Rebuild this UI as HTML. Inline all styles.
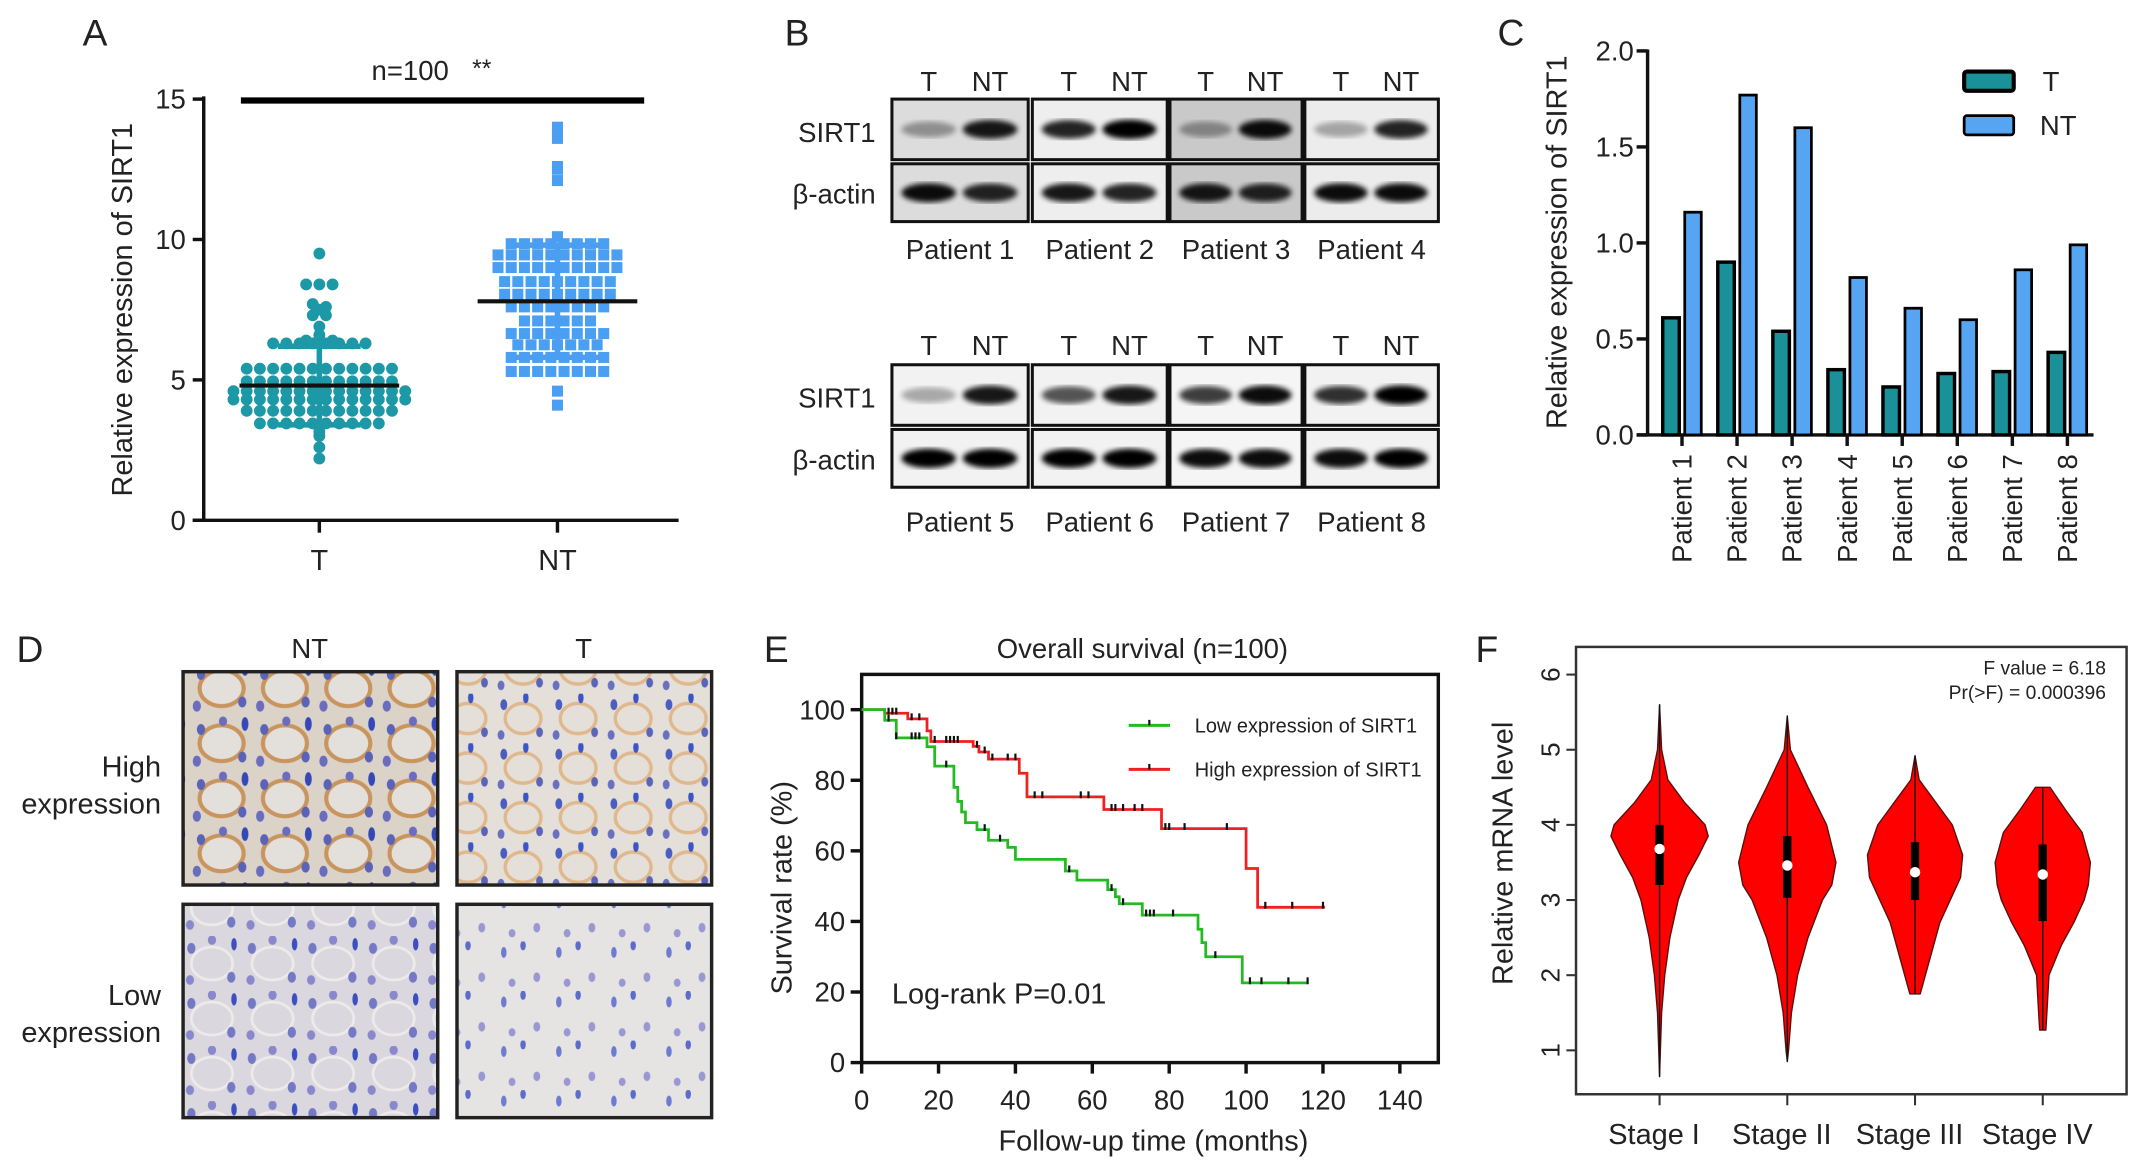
<!DOCTYPE html>
<html><head><meta charset="utf-8"><title>SIRT1 figure</title>
<style>
html,body{margin:0;padding:0;background:#fff;}
svg{display:block;font-family:"Liberation Sans",Arial,sans-serif;}
</style></head>
<body>
<svg id="fig" width="2150" height="1165" viewBox="0 0 1562 846.4" xmlns="http://www.w3.org/2000/svg">
<defs>
<pattern id="ihcHighNT" width="46" height="40" patternUnits="userSpaceOnUse">
<rect width="46" height="40" fill="#dcd3c8"/>
<ellipse cx="23" cy="20" rx="15" ry="12" fill="#e3e0dc"/>
<ellipse cx="23" cy="20" rx="16" ry="13" fill="none" stroke="#c9955e" stroke-width="3"/>
<ellipse cx="8" cy="10" rx="3" ry="4" fill="#5b63b8"/>
<ellipse cx="38" cy="30" rx="3" ry="4" fill="#5b63b8"/>
<ellipse cx="40" cy="6" rx="2.5" ry="5" fill="#3448b8"/>
<ellipse cx="5" cy="33" rx="3" ry="4" fill="#6a6cbd"/>
<ellipse cx="24" cy="4" rx="3" ry="3.5" fill="#6a6cbd"/>
</pattern>
<pattern id="ihcHighT" width="40" height="36" patternUnits="userSpaceOnUse">
<rect width="40" height="36" fill="#e4e0d9"/>
<ellipse cx="20" cy="18" rx="13" ry="11" fill="none" stroke="#e0b88d" stroke-width="2.5"/>
<ellipse cx="6" cy="8" rx="2.5" ry="4" fill="#4a5ec0"/>
<ellipse cx="32" cy="28" rx="2.5" ry="3.5" fill="#5a64b8"/>
<ellipse cx="22" cy="3" rx="2" ry="4" fill="#3d55c4"/>
<ellipse cx="4" cy="30" rx="2.5" ry="3.5" fill="#6a70c0"/>
</pattern>
<pattern id="ihcLowNT" width="44" height="40" patternUnits="userSpaceOnUse">
<rect width="44" height="40" fill="#dad8de"/>
<ellipse cx="22" cy="20" rx="15" ry="12" fill="none" stroke="#eeeaea" stroke-width="2"/>
<ellipse cx="7" cy="9" rx="3" ry="4" fill="#7479c6"/>
<ellipse cx="36" cy="30" rx="3" ry="4" fill="#7479c6"/>
<ellipse cx="38" cy="6" rx="2" ry="4.5" fill="#3d4fc0"/>
<ellipse cx="6" cy="32" rx="3" ry="3.5" fill="#8a88cc"/>
<ellipse cx="22" cy="3" rx="3" ry="3.5" fill="#8a88cc"/>
</pattern>
<pattern id="ihcLowT" width="40" height="36" patternUnits="userSpaceOnUse">
<rect width="40" height="36" fill="#e6e3e3"/>
<ellipse cx="6" cy="8" rx="2" ry="4" fill="#6d7cd0"/>
<ellipse cx="30" cy="26" rx="2.5" ry="3.5" fill="#9a98d2"/>
<ellipse cx="20" cy="3" rx="2" ry="3.5" fill="#5b6ccd"/>
<ellipse cx="12" cy="30" rx="2.5" ry="3" fill="#9a98d2"/>
</pattern>
<filter id="blur1"><feGaussianBlur stdDeviation="2"/></filter>
</defs>
</svg>
<script>
// ===== Panel A data =====
const aCategories = ['T', 'NT'];
const aTicks = [0, 5, 10, 15];
const aTValues = [9.5, 8.4, 8.4, 8.4, 7.7, 7.5, 7.3, 7.3, 7.6, 6.9,
  6.6, 6.4, 6.3, 6.3, 6.3, 6.3, 6.3, 6.3, 6.3, 6.4, 6.4, 6.3,
  5.4, 5.4, 5.4, 5.4, 5.4, 5.4, 5.4, 5.4, 5.4, 5.4, 5.4, 5.4,
  4.95, 4.95, 4.95, 4.95, 4.95, 4.95, 4.95, 4.95, 4.95, 4.95, 4.95, 4.95,
  4.6, 4.6, 4.6, 4.6, 4.6, 4.6, 4.6, 4.6, 4.6, 4.6, 4.6, 4.6, 4.6, 4.6,
  4.3, 4.3, 4.3, 4.3, 4.3, 4.3, 4.3, 4.3, 4.3, 4.3, 4.3, 4.3, 4.3, 4.3,
  3.9, 3.9, 3.9, 3.9, 3.9, 3.9, 3.9, 3.9, 3.9, 3.9, 3.9, 3.9,
  3.45, 3.45, 3.45, 3.45, 3.45, 3.45, 3.45, 3.45, 3.45, 3.45,
  3.15, 3.0, 2.6, 2.2];
const aNTValues = [14.0, 13.8, 13.6, 12.6, 12.5, 12.1, 10.1,
  9.85, 9.85, 9.85, 9.85, 9.85, 9.85, 9.85, 9.85,
  9.45, 9.45, 9.45, 9.45, 9.45, 9.45, 9.45, 9.45, 9.45, 9.45,
  9.0, 9.0, 9.0, 9.0, 9.0, 9.0, 9.0, 9.0, 9.0, 9.0,
  8.5, 8.5, 8.5, 8.5, 8.5, 8.5, 8.5, 8.5, 8.5,
  8.05, 8.05, 8.05, 8.05, 8.05, 8.05, 8.05, 8.05, 8.05,
  7.6, 7.6, 7.6, 7.6, 7.6, 7.6, 7.6, 7.6,
  7.1, 7.1, 7.1, 7.1, 7.1, 7.1,
  6.65, 6.65, 6.65, 6.65, 6.65, 6.65, 6.65, 6.65,
  6.25, 6.25, 6.25, 6.25, 6.25, 6.25, 6.25,
  5.8, 5.8, 5.8, 5.8, 5.8, 5.8, 5.8, 5.8,
  5.3, 5.3, 5.3, 5.3, 5.3, 5.3, 5.3, 5.3,
  4.6, 4.1];
const aMeans = [4.8, 7.8];
const aSD = [1.4, 2.0];

// ===== Panel C data =====
const cCategories = ['Patient 1','Patient 2','Patient 3','Patient 4','Patient 5','Patient 6','Patient 7','Patient 8'];
const cTValues = [0.61, 0.90, 0.54, 0.34, 0.25, 0.32, 0.33, 0.43];
const cNTValues = [1.16, 1.77, 1.60, 0.82, 0.66, 0.60, 0.86, 0.99];
const cTicks = [0, 0.5, 1.0, 1.5, 2.0];
const cTickLabels = ['0.0', '0.5', '1.0', '1.5', '2.0'];

// ===== Panel E data =====
const eXTicks = [0, 20, 40, 60, 80, 100, 120, 140];
const eYTicks = [0, 20, 40, 60, 80, 100];
const eLowTimes = [0, 6, 9, 17, 19, 24, 25, 26, 27, 30, 33, 38, 40, 53, 56, 64, 66, 67, 73, 87.5, 88.5, 89.5, 99, 116];
const eLowSurv  = [100, 97, 92, 89.5, 84, 78, 74, 71, 68, 66, 63, 61, 57.6, 54.3, 51.7, 49, 47, 45, 41.8, 37.8, 34, 30, 22.6, 22.6];
const eHighTimes = [0, 6, 12, 17, 18, 29, 30.5, 33, 41, 43, 63, 78, 100, 103, 120.5];
const eHighSurv  = [100, 99, 97.4, 94, 91, 89.6, 88, 86, 82, 75.3, 71.7, 66.3, 55, 44, 44];
const eLowCensor = [7, 9, 13, 14, 15, 22, 32, 36, 54, 65, 68, 74, 75, 76, 81, 92, 101, 104, 111, 116];
const eHighCensor = [7, 8, 9, 13, 15, 19, 22, 23, 24, 25, 30, 32, 34, 38, 40, 45, 47, 57, 59, 65, 66, 68, 71, 73, 79, 80, 84, 95, 105, 112, 120];

// ===== Panel F data =====
const fStages = ['Stage I', 'Stage II', 'Stage III', 'Stage IV'];
const fTicks = [1, 2, 3, 4, 5, 6];
const fLevels = [
  [5.6, 5.0, 4.6, 4.3, 4.0, 3.85, 3.6, 3.3, 3.0, 2.5, 2.0, 1.5, 1.0, 0.65],
  [5.45, 5.0, 4.5, 4.0, 3.5, 3.2, 3.0, 2.5, 2.0, 1.5, 1.0, 0.85],
  [4.92, 4.6, 4.3, 4.0, 3.6, 3.3, 3.0, 2.7, 2.4, 2.0, 1.8, 1.75],
  [4.5, 4.2, 3.9, 3.5, 3.2, 3.0, 2.7, 2.4, 2.0, 1.5, 1.27]
];
const fWidths = [
  [0, 0.04, 0.16, 0.48, 0.88, 0.94, 0.76, 0.52, 0.36, 0.2, 0.1, 0.04, 0.016, 0],
  [0, 0.06, 0.4, 0.76, 0.94, 0.86, 0.68, 0.4, 0.2, 0.08, 0.024, 0],
  [0, 0.08, 0.4, 0.72, 0.92, 0.88, 0.68, 0.48, 0.36, 0.2, 0.12, 0.1],
  [0.14, 0.44, 0.76, 0.92, 0.88, 0.8, 0.6, 0.36, 0.12, 0.08, 0.06]
];
const fQ1 = [3.2, 3.03, 3.0, 2.72];
const fQ3 = [4.0, 3.85, 3.77, 3.74];
const fMedian = [3.68, 3.46, 3.37, 3.34];

const NS = 'http://www.w3.org/2000/svg';
const svg = document.getElementById('fig');
function mk(tag, attrs, parent) {
  const el = document.createElementNS(NS, tag);
  for (const k in attrs) el.setAttribute(k, attrs[k]);
  (parent || svg).appendChild(el);
  return el;
}
function txt(s, x, y, size, anchor, parent, extra) {
  const t = mk('text', Object.assign({x: x, y: y, 'font-size': size, 'text-anchor': anchor || 'middle', fill: '#222'}, extra || {}), parent);
  t.textContent = s;
  return t;
}
function grp(parent) { return mk('g', {}, parent); }

// Panel letters
const letters = [['A', 60, 33], ['B', 570, 33], ['C', 1088, 33], ['D', 12, 481], ['E', 555, 481], ['F', 1072, 481]];
letters.forEach(l => {
  const t = txt(l[0], l[1], l[2], 27, 'start');
  
  
});

// ================= PANEL A =================
const pA = grp();


const aX0 = 148, aY0 = 378, aYScale = 20.4;
const aCenters = [232, 405];
function yA(v) { return aY0 - v * aYScale; }
function xA(i) { return aCenters[i]; }
let el;
el = mk('line', {x1: aX0, y1: yA(15) - 2, x2: aX0, y2: aY0, stroke: '#111', 'stroke-width': 2.5}, pA);


el = mk('line', {x1: aX0 - 8, y1: aY0, x2: 493, y2: aY0, stroke: '#111', 'stroke-width': 2.5}, pA);


aTicks.forEach(v => {
  const tk = mk('line', {x1: aX0 - 8, y1: yA(v), x2: aX0, y2: yA(v), stroke: '#111', 'stroke-width': 2.5}, pA);
  
  
  const tl = txt(String(v), aX0 - 13, yA(v) + 7, 20, 'end', pA);
  
  
});
aCategories.forEach((c, i) => {
  const tk = mk('line', {x1: xA(i), y1: aY0, x2: xA(i), y2: aY0 + 9, stroke: '#111', 'stroke-width': 2.5}, pA);
  
  
  const tl = txt(c, xA(i), 414, 21, 'middle', pA);
  
  
});
el = txt('Relative expression of SIRT1', 0, 0, 21, 'middle', pA, {transform: 'translate(96,225) rotate(-90)'});


el = mk('line', {x1: 175, y1: 73, x2: 468, y2: 73, stroke: '#000', 'stroke-width': 4.5}, pA);


el = txt('n=100', 298, 58, 20, 'middle', pA);


el = txt('**', 350, 56, 18, 'middle', pA);



function swarm(values, ci, isSquare, color, name) {
  const groups = {};
  values.forEach(v => { const k = Math.round(v / 0.15); (groups[k] = groups[k] || []).push(v); });
  Object.keys(groups).forEach(k => {
    const g = groups[k];
    g.forEach((v, j) => {
      const cx = xA(ci) + (j - (g.length - 1) / 2) * 9.6;
      const cy = yA(v);
      let m;
      if (isSquare) m = mk('rect', {x: cx - 4, y: cy - 4, width: 8, height: 8, fill: color}, pA);
      else m = mk('circle', {cx: cx, cy: cy, r: 4.3, fill: color}, pA);
      
      
    });
  });
}
swarm(aTValues, 0, false, '#1c98a6', 't-point');
swarm(aNTValues, 1, true, '#4b9ff2', 'nt-point');
const aColors = ['#1c98a6', '#4b9ff2'];
aMeans.forEach((m, i) => {
  const hi = m + aSD[i], lo = m - aSD[i];
  let l = mk('line', {x1: xA(i), y1: yA(hi), x2: xA(i), y2: yA(lo), stroke: aColors[i], 'stroke-width': 4}, pA);
  
  
  [hi, lo].forEach(v => {
    const c = mk('line', {x1: xA(i) - 30, y1: yA(v), x2: xA(i) + 30, y2: yA(v), stroke: aColors[i], 'stroke-width': 4}, pA);
    
    
  });
  l = mk('line', {x1: xA(i) - 58, y1: yA(m), x2: xA(i) + 58, y2: yA(m), stroke: '#111', 'stroke-width': 3}, pA);
  
  
});

// ================= PANEL B (western blots) =================
const pB = grp();


const bCols = [[648, 99], [750, 98], [850, 96], [948, 97]];
const bRows = [{top: 72, hdr: 66, lbl: 188, start: 0, bg: ['#dcdcdc', '#eeeeee', '#c9c9c9', '#ececec'],
  sirt: [[0.35, 0.9], [0.85, 1], [0.35, 0.95], [0.3, 0.85]], act: [[0.95, 0.85], [0.9, 0.85], [0.9, 0.85], [0.95, 0.95]]},
  {top: 265, hdr: 258, lbl: 386, start: 4, bg: ['#f2f2f2', '#f2f2f2', '#f5f5f5', '#f2f2f2'],
  sirt: [[0.3, 0.9], [0.65, 0.9], [0.75, 0.95], [0.8, 1]], act: [[1, 1], [1, 1], [0.95, 0.95], [0.95, 1]]}];
bRows.forEach(row => {
  const sl = txt('SIRT1', 608, row.top + 31, 20, 'middle', pB);
  
  
  const al = txt('β-actin', 606, row.top + 76, 20, 'middle', pB);
  
  
  bCols.forEach((c, k) => {
    const [x, w] = c;
    const tH = txt('T', x + w * 0.27, row.hdr, 20, 'middle', pB);
    
    
    const nH = txt('NT', x + w * 0.72, row.hdr, 20, 'middle', pB);
    
    
    [[row.top, 44, row.sirt[k], 'sirt1-blot'], [row.top + 47, 42, row.act[k], 'actin-blot']].forEach(r => {
      const bx = mk('rect', {x: x, y: r[0], width: w, height: r[1], fill: row.bg[k], stroke: '#111', 'stroke-width': 2.2}, pB);
      
      
      [0.27, 0.72].forEach((f, li) => {
        const band = mk('ellipse', {cx: x + w * f, cy: r[0] + r[1] / 2, rx: w * 0.2, ry: 5 + 2 * r[2][li], fill: '#000', opacity: r[2][li], filter: 'url(#blur1)'}, pB);
        
        
      });
    });
    const pl = txt('Patient ' + (row.start + k + 1), x + w / 2, row.lbl, 20, 'middle', pB);
    
    
  });
});

// ================= PANEL C =================
const pC = grp();


const cX0 = 1197, cY0 = 316, cScale = 139.5;
function yC(v) { return cY0 - v * cScale; }
function xC(i) { return 1222 + i * 40; }
el = mk('line', {x1: cX0, y1: yC(2) - 1, x2: cX0, y2: cY0, stroke: '#111', 'stroke-width': 2.5}, pC);


el = mk('line', {x1: cX0 - 8, y1: cY0, x2: 1521, y2: cY0, stroke: '#111', 'stroke-width': 2.5}, pC);


cTicks.forEach((v, i) => {
  const tk = mk('line', {x1: cX0 - 8, y1: yC(v), x2: cX0, y2: yC(v), stroke: '#111', 'stroke-width': 2.5}, pC);
  
  
  const tl = txt(cTickLabels[i], cX0 - 10, yC(v) + 7, 20, 'end', pC);
  
  
});
el = txt('Relative expression of SIRT1', 0, 0, 21, 'middle', pC, {transform: 'translate(1138,176) rotate(-90)'});


cCategories.forEach((c, i) => {
  const bt = mk('rect', {x: xC(i) - 14, y: yC(cTValues[i]), width: 12, height: cTValues[i] * cScale, fill: '#1a9098', stroke: '#000', 'stroke-width': 2.5}, pC);
  
  
  const bn = mk('rect', {x: xC(i) + 2, y: yC(cNTValues[i]), width: 12, height: cNTValues[i] * cScale, fill: '#56a5f3', stroke: '#000', 'stroke-width': 2}, pC);
  
  
  const tk = mk('line', {x1: xC(i), y1: cY0, x2: xC(i), y2: cY0 + 8, stroke: '#111', 'stroke-width': 2.5}, pC);
  
  
  const tl = txt(c, 0, 0, 20, 'end', pC, {transform: 'translate(' + (xC(i) + 7) + ',330) rotate(-90)'});
  
  
});
el = mk('rect', {x: 1427, y: 52, width: 36, height: 14, rx: 2, fill: '#1a9098', stroke: '#000', 'stroke-width': 3}, pC);


el = txt('T', 1484, 66, 20, 'start', pC);


el = mk('rect', {x: 1427, y: 84, width: 36, height: 14, rx: 2, fill: '#56a5f3', stroke: '#000', 'stroke-width': 2}, pC);


el = txt('NT', 1482, 98, 20, 'start', pC);



// ================= PANEL D (IHC images) =================
const pD = grp();


el = txt('NT', 225, 478, 20, 'middle', pD);


el = txt('T', 424, 478, 20, 'middle', pD);


[['High', 564], ['expression', 591], ['Low', 730], ['expression', 757]].forEach(r => {
  const t = txt(r[0], 117, r[1], 21, 'end', pD);
  
  
});
[[133, 488, 'ihcHighNT', 'ihc-high-nt'], [332, 488, 'ihcHighT', 'ihc-high-t'], [133, 657, 'ihcLowNT', 'ihc-low-nt'], [332, 657, 'ihcLowT', 'ihc-low-t']].forEach(p => {
  const r = mk('rect', {x: p[0], y: p[1], width: 185, height: 155, fill: 'url(#' + p[2] + ')', stroke: '#222', 'stroke-width': 2.5}, pD);
  
  
});

// ================= PANEL E (Kaplan-Meier) =================
const pE = grp();


const eX0 = 626, eXScale = 2.793, eY0 = 772, eYScale = 2.564;
function xE(t) { return eX0 + t * eXScale; }
function yE(s) { return eY0 - s * eYScale; }
el = mk('rect', {x: xE(0), y: yE(110), width: xE(150) - xE(0), height: yE(0) - yE(110), fill: 'none', stroke: '#111', 'stroke-width': 2.5}, pE);


eYTicks.forEach(v => {
  const tk = mk('line', {x1: xE(0) - 8, y1: yE(v), x2: xE(0), y2: yE(v), stroke: '#111', 'stroke-width': 2.5}, pE);
  
  
  const tl = txt(String(v), xE(0) - 12, yE(v) + 7, 20, 'end', pE);
  
  
});
eXTicks.forEach(v => {
  const tk = mk('line', {x1: xE(v), y1: eY0, x2: xE(v), y2: eY0 + 8, stroke: '#111', 'stroke-width': 2.5}, pE);
  
  
  const tl = txt(String(v), xE(v), 806, 20, 'middle', pE);
  
  
});
el = txt('Follow-up time (months)', 838, 836, 21, 'middle', pE);


el = txt('Survival rate (%)', 0, 0, 21, 'middle', pE, {transform: 'translate(575,645) rotate(-90)'});


el = txt('Overall survival (n=100)', 830, 478, 20, 'middle', pE);


el = txt('Log-rank P=0.01', 648, 729, 21, 'start', pE);


function stepPath(times, surv) {
  let d = 'M' + xE(times[0]) + ',' + yE(surv[0]);
  for (let i = 1; i < times.length; i++) {
    d += ' H' + xE(times[i]) + ' V' + yE(surv[i]);
  }
  return d;
}
function survAt(times, surv, t) {
  let s = surv[0];
  for (let i = 0; i < times.length; i++) if (times[i] <= t) s = surv[i];
  return s;
}
el = mk('path', {d: stepPath(eHighTimes, eHighSurv), fill: 'none', stroke: '#ee2020', 'stroke-width': 2}, pE);


el = mk('path', {d: stepPath(eLowTimes, eLowSurv), fill: 'none', stroke: '#22bb22', 'stroke-width': 2}, pE);


eHighCensor.forEach(t => {
  const s = survAt(eHighTimes, eHighSurv, t);
  const c = mk('line', {x1: xE(t), y1: yE(s) - 4, x2: xE(t), y2: yE(s) + 1, stroke: '#111', 'stroke-width': 1.6}, pE);
  
  
});
eLowCensor.forEach(t => {
  const s = survAt(eLowTimes, eLowSurv, t);
  const c = mk('line', {x1: xE(t), y1: yE(s) - 4, x2: xE(t), y2: yE(s) + 1, stroke: '#111', 'stroke-width': 1.6}, pE);
  
  
});
[[527, '#22bb22', 'Low expression of SIRT1', 'legend-low'], [559, '#ee2020', 'High expression of SIRT1', 'legend-high']].forEach(l => {
  const ln = mk('line', {x1: 820, y1: l[0], x2: 850, y2: l[0], stroke: l[1], 'stroke-width': 2.2}, pE);
  
  
  const tk = mk('line', {x1: 835, y1: l[0] - 4, x2: 835, y2: l[0], stroke: '#111', 'stroke-width': 1.6}, pE);
  
  
  const t = txt(l[2], 868, l[0] + 5, 14.5, 'start', pE);
  
  
});

// ================= PANEL F (violin) =================
const pF = grp();


const fBoxL = 1145, fBoxR = 1545, fBoxT = 470, fBoxB = 795;
const fHalfMax = 37.6;
function yF(v) { return 490.1 + (6 - v) * 54.6; }
function xF(i) { return 1205.7 + i * 92.8; }
el = mk('rect', {x: fBoxL, y: fBoxT, width: fBoxR - fBoxL, height: fBoxB - fBoxT, fill: 'none', stroke: '#333', 'stroke-width': 1.8}, pF);


fTicks.forEach(v => {
  const tk = mk('line', {x1: fBoxL - 7, y1: yF(v), x2: fBoxL, y2: yF(v), stroke: '#333', 'stroke-width': 1.5}, pF);
  
  
  const tl = txt(String(v), 0, 0, 19, 'middle', pF, {transform: 'translate(' + (fBoxL - 12) + ',' + yF(v) + ') rotate(-90)'});
  
  
});
el = txt('Relative mRNA level', 0, 0, 21, 'middle', pF, {transform: 'translate(1099,620) rotate(-90)'});


el = txt('F value = 6.18', 1530, 490, 14, 'end', pF);


el = txt('Pr(>F) = 0.000396', 1530, 508, 14, 'end', pF);


fStages.forEach((s, i) => {
  const cx = xF(i);
  const lv = fLevels[i], wd = fWidths[i];
  let d = '';
  lv.forEach((v, j) => { d += (j ? ' L' : 'M') + (cx + wd[j] * fHalfMax) + ',' + yF(v); });
  for (let j = lv.length - 1; j >= 0; j--) d += ' L' + (cx - wd[j] * fHalfMax) + ',' + yF(lv[j]);
  d += ' Z';
  const vp = mk('path', {d: d, fill: '#ff0000', stroke: '#5a1010', 'stroke-width': 1, 'stroke-linejoin': 'round'}, pF);
  
  
  const wl = mk('line', {x1: cx, y1: yF(lv[0]), x2: cx, y2: yF(lv[lv.length - 1]), stroke: '#111', 'stroke-width': 1}, pF);
  
  
  const bx = mk('rect', {x: cx - 3, y: yF(fQ3[i]), width: 6, height: yF(fQ1[i]) - yF(fQ3[i]), fill: '#000'}, pF);
  
  
  const md = mk('circle', {cx: cx, cy: yF(fMedian[i]), r: 3.8, fill: '#fff'}, pF);
  
  
  const tk = mk('line', {x1: cx, y1: fBoxB, x2: cx, y2: fBoxB + 8, stroke: '#333', 'stroke-width': 1.5}, pF);
  
  
  const tl = txt(s, cx - 4, 831, 21, 'middle', pF);
  
  
});
</script>
</body></html>
